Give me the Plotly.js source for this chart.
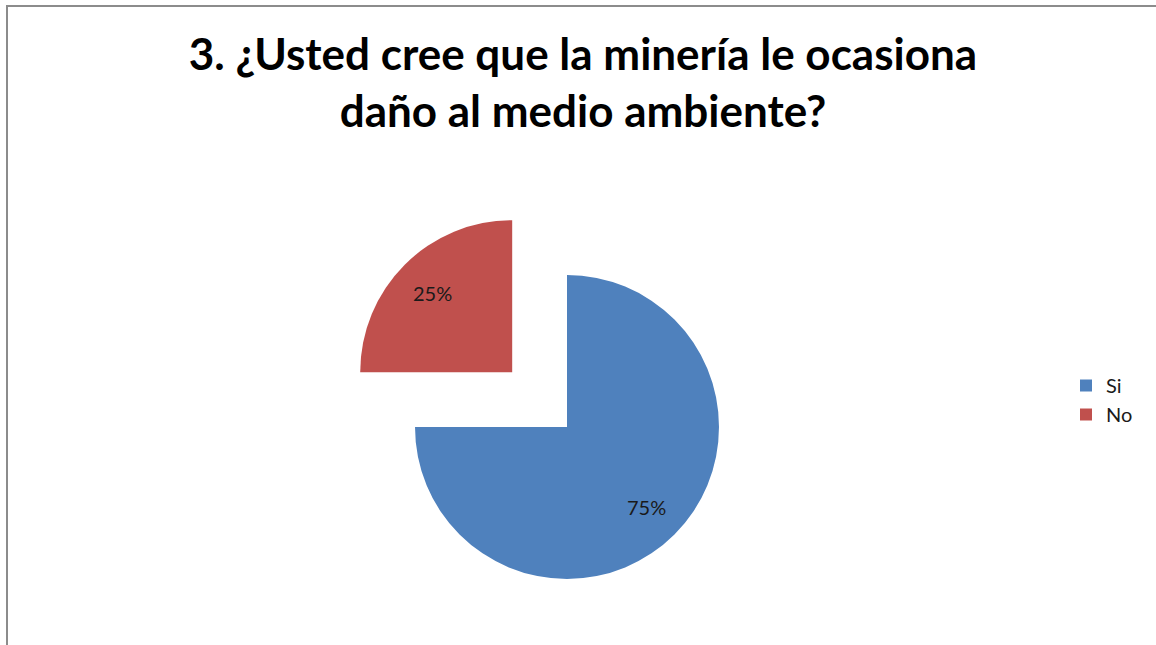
<!DOCTYPE html>
<html>
<head>
<meta charset="utf-8">
<script src="https://cdn.plot.ly/plotly-3.0.1.min.js"></script>
<style>
html,body{margin:0;padding:0;overflow:hidden;background:#fff;width:1156px;height:645px;}
#chart{width:1156px;height:700px;}
</style>
</head>
<body>
<div id="chart"></div>
<script>
var labels = ['Si', 'No'];
var values = [75, 25];
var colors = ['#4F81BD', '#C0504D'];
var pulls = [0, 0.51];
var titleText = '3. ¿Usted cree que la minería le ocasiona<br>daño al medio ambiente?';

var W = 1156, H = 700;
var dom = {x: [337.5 / W, 796.5 / W], y: [(H - 656.5) / H, (H - 197.5) / H]};

var trace = {
  type: 'pie',
  labels: labels,
  values: values,
  marker: {colors: colors, line: {width: 0}},
  pull: pulls,
  sort: false,
  direction: 'clockwise',
  rotation: 0,
  textinfo: 'none',
  hoverinfo: 'label+percent',
  domain: dom
};

// percentage labels placed along each slice's bisector (derived from the data)
var maxPull = Math.max.apply(null, pulls);
var domW = (dom.x[1] - dom.x[0]) * W, domH = (dom.y[1] - dom.y[0]) * H;
var r = Math.min(domW, domH) / (2 + 2 * maxPull);
var cx = (dom.x[0] + dom.x[1]) / 2 * W;
var cy = (1 - (dom.y[0] + dom.y[1]) / 2) * H;
var total = values.reduce(function (a, b) { return a + b; }, 0);
var annotations = [];
var cum = 0;
for (var i = 0; i < values.length; i++) {
  var mid = (cum + values[i] / 2) / total * 2 * Math.PI;
  cum += values[i];
  var sx = Math.sin(mid), sy = -Math.cos(mid);
  var px = cx + (pulls[i] * r + 0.74 * r) * sx;
  var py = cy + (pulls[i] * r + 0.74 * r) * sy;
  annotations.push({
    xref: 'paper', yref: 'paper',
    x: px / W, y: 1 - py / H,
    xanchor: 'center', yanchor: 'middle',
    showarrow: false,
    text: Math.round(values[i] / total * 100) + '%',
    font: {family: 'Lato, sans-serif', size: 20, color: '#1a1a1a'}
  });
}

var layout = {
  width: W,
  height: H,
  margin: {l: 0, r: 0, t: 0, b: 0},
  paper_bgcolor: '#ffffff',
  title: {
    text: titleText,
    font: {family: 'Lato, sans-serif', size: 44, color: '#000000', weight: 'bold'},
    x: 583 / W,
    xanchor: 'center',
    y: 1 - 70 / H,
    yanchor: 'top'
  },
  showlegend: true,
  legend: {
    x: 1066 / W,
    xanchor: 'left',
    y: 1 - 400 / H,
    yanchor: 'middle',
    font: {family: 'Lato, sans-serif', size: 20, color: '#1a1a1a'},
    bgcolor: 'rgba(0,0,0,0)'
  },
  annotations: annotations,
  shapes: [
    {type: 'line', xref: 'paper', yref: 'paper', x0: 7 / W, x1: 7 / W, y0: 1 - 5 / H, y1: 0, line: {color: '#8c8c8c', width: 2}},
    {type: 'line', xref: 'paper', yref: 'paper', x0: 6 / W, x1: 1, y0: 1 - 6 / H, y1: 1 - 6 / H, line: {color: '#8c8c8c', width: 2}}
  ]
};

Plotly.newPlot('chart', [trace], layout, {displayModeBar: false, staticPlot: true});
</script>
</body>
</html>
